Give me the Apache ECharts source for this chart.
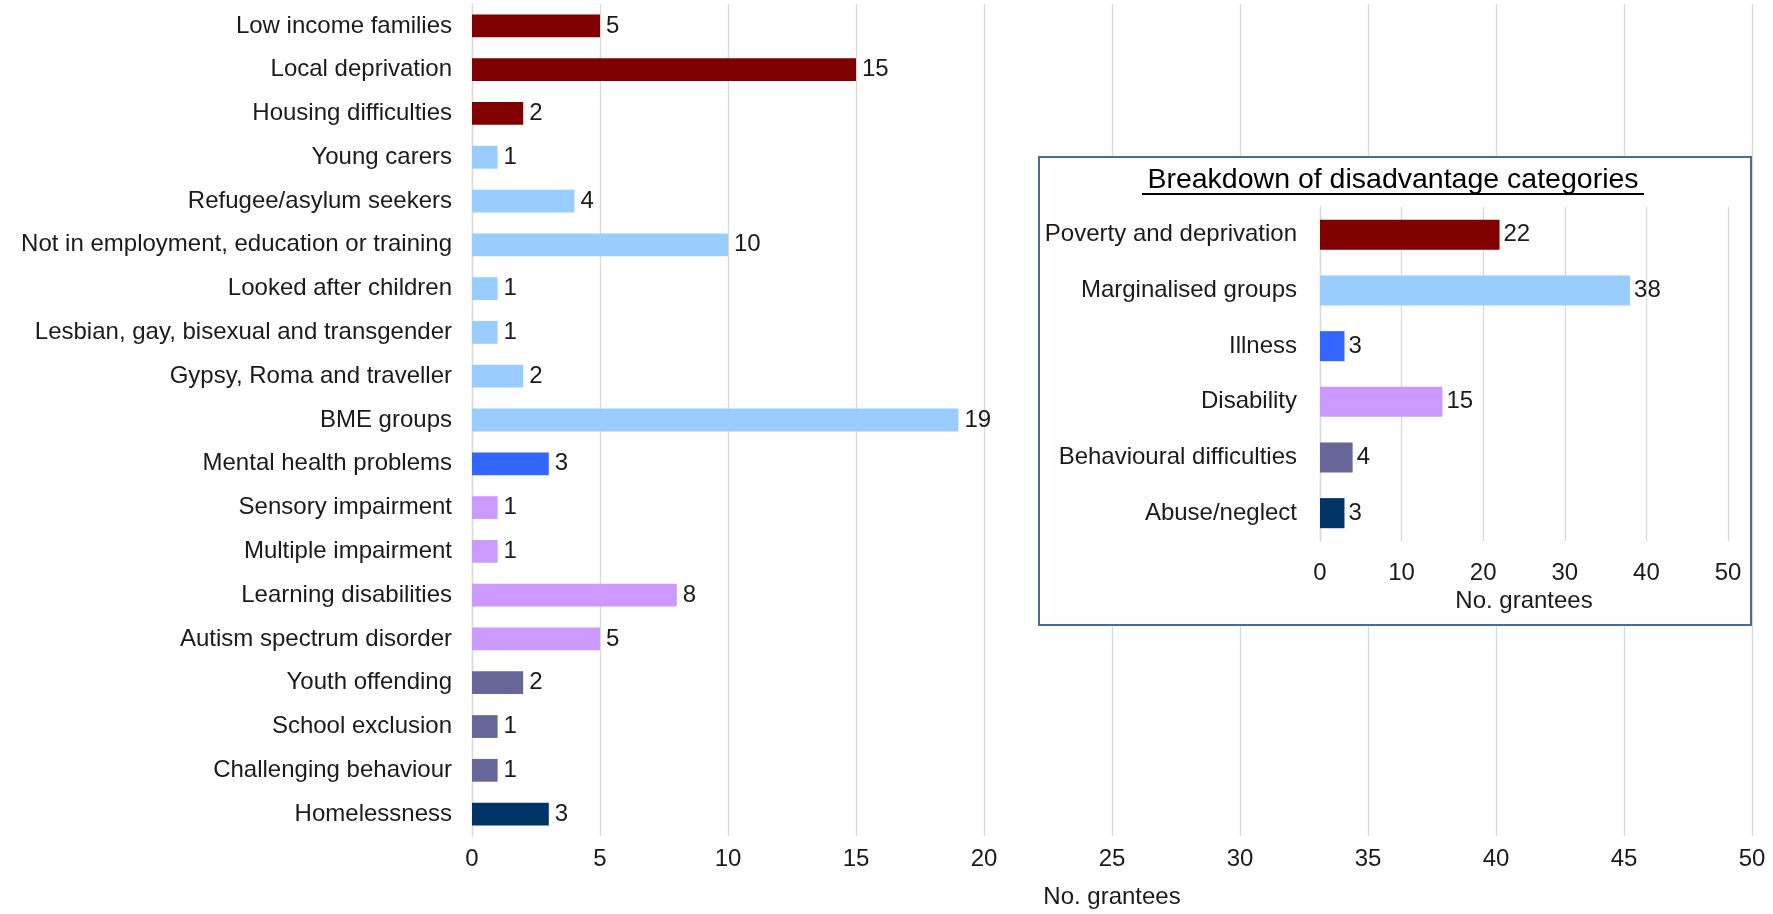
<!DOCTYPE html>
<html>
<head>
<meta charset="utf-8">
<script src="https://cdn.jsdelivr.net/npm/echarts@6/dist/echarts.min.js"></script>
<style>
html,body{margin:0;padding:0;background:#fff;}
#c{width:1773px;height:914px;}
</style>
</head>
<body>
<div id="c"></div>
<script>
// ---- data ----
const categories = [
  'Low income families','Local deprivation','Housing difficulties','Young carers',
  'Refugee/asylum seekers','Not in employment, education or training','Looked after children',
  'Lesbian, gay, bisexual and transgender','Gypsy, Roma and traveller','BME groups',
  'Mental health problems','Sensory impairment','Multiple impairment','Learning disabilities',
  'Autism spectrum disorder','Youth offending','School exclusion','Challenging behaviour','Homelessness'
];
const values = [5,15,2,1,4,10,1,1,2,19,3,1,1,8,5,2,1,1,3];
const groupOf = [0,0,0,1,1,1,1,1,1,1,2,3,3,3,3,4,4,4,5];

const groupNames = ['Poverty and deprivation','Marginalised groups','Illness','Disability','Behavioural difficulties','Abuse/neglect'];
const groupValues = [22,38,3,15,4,3];
const groupColors = ['#800000','#99CCFF','#3366FF','#CC99FF','#666699','#003366'];

const xTicks = [0,5,10,15,20,25,30,35,40,45,50];
const insetTicks = [0,10,20,30,40,50];
const axisTitle = 'No. grantees';
const insetTitle = 'Breakdown of disadvantage categories';

// ---- chart ----
const FONT = 'Liberation Sans, Arial, sans-serif';
const TXT = '#1a1a1a';
const GRID = '#d9d9d9';
const FS = 24;
const chart = echarts.init(document.getElementById('c'));

chart.setOption({
  animation: false,
  backgroundColor: '#fff',
  textStyle: {fontFamily: FONT},
  grid: [
    {left: 472, right: 21, top: 4, bottom: 76},
    {left: 1320, right: 45, top: 207, bottom: 373, z: 5}
  ],
  xAxis: [
    {gridIndex: 0, type: 'value', min: xTicks[0], max: xTicks[xTicks.length-1], interval: 5,
     axisLine: {show: false}, axisTick: {show: false},
     splitLine: {lineStyle: {color: GRID, width: 1.3}},
     axisLabel: {fontSize: FS, color: TXT, margin: 11, fontFamily: FONT},
     name: axisTitle, nameLocation: 'middle', nameGap: 49,
     nameTextStyle: {fontSize: FS, color: TXT, fontFamily: FONT}},
    {gridIndex: 1, type: 'value', min: insetTicks[0], max: insetTicks[insetTicks.length-1], interval: 10, z: 5,
     axisLine: {show: false}, axisTick: {show: false},
     splitLine: {lineStyle: {color: GRID, width: 1.3}},
     axisLabel: {fontSize: FS, color: TXT, margin: 20, fontFamily: FONT},
     name: axisTitle, nameLocation: 'middle', nameGap: 48,
     nameTextStyle: {fontSize: FS, color: TXT, fontFamily: FONT}}
  ],
  yAxis: [
    {gridIndex: 0, type: 'category', data: categories, inverse: true,
     axisLine: {show: true, lineStyle: {color: GRID, width: 1.3}}, axisTick: {show: false},
     axisLabel: {fontSize: FS, color: TXT, margin: 20, fontFamily: FONT}},
    {gridIndex: 1, type: 'category', data: groupNames, inverse: true, z: 5,
     axisLine: {show: true, lineStyle: {color: GRID, width: 1.3}}, axisTick: {show: false},
     axisLabel: {fontSize: FS, color: TXT, margin: 23, fontFamily: FONT}}
  ],
  graphic: [
    {type: 'rect', z: 3, shape: {x: 1039, y: 157, width: 712, height: 468},
     style: {fill: '#fff', stroke: '#4a6d96', lineWidth: 2}},
    {type: 'text', z: 4, x: 1393, y: 180,
     style: {text: insetTitle, fontSize: 28.5, fill: '#000', fontFamily: FONT, align: 'center', verticalAlign: 'middle'}},
    {type: 'line', z: 4, shape: {x1: 1142, y1: 194, x2: 1644, y2: 194},
     style: {stroke: '#000', lineWidth: 2}}
  ],
  series: [
    {type: 'bar', xAxisIndex: 0, yAxisIndex: 0, barCategoryGap: '48%',
     data: values.map((v,i) => ({value: v, itemStyle: {color: groupColors[groupOf[i]]}})),
     label: {show: true, position: 'right', distance: 6, fontSize: FS, color: TXT, fontFamily: FONT}},
    {type: 'bar', xAxisIndex: 1, yAxisIndex: 1, barCategoryGap: '46%', z: 6,
     data: groupValues.map((v,i) => ({value: v, itemStyle: {color: groupColors[i]}})),
     label: {show: true, position: 'right', distance: 4, fontSize: FS, color: TXT, fontFamily: FONT}}
  ]
});
</script>
</body>
</html>
